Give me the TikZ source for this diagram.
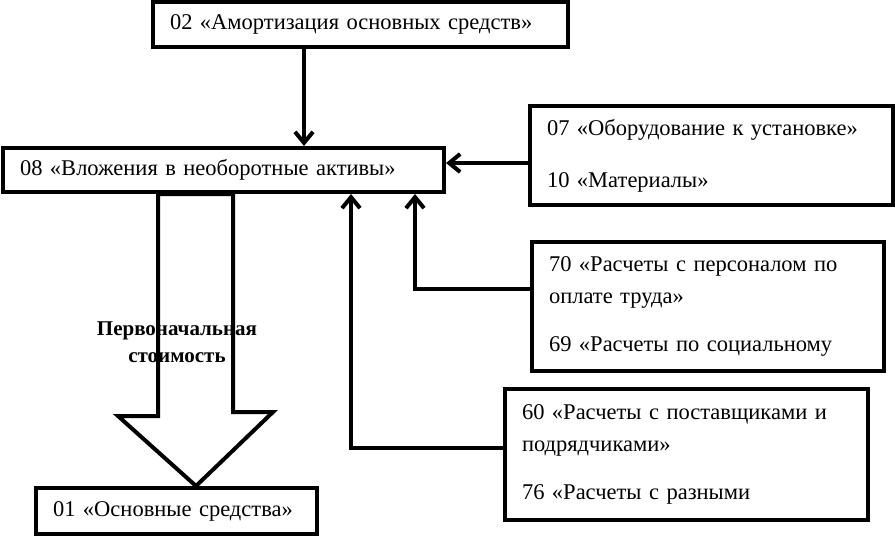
\documentclass[tikz,border=0pt]{standalone}
\usepackage{fontspec}
\setmainfont{Liberation Serif}
\usetikzlibrary{arrows.meta}

\begin{document}
\begin{tikzpicture}[x=1pt, y=-1pt,
  box/.style={draw, line width=4pt, inner xsep=17pt, inner ysep=0pt, align=left,
    font=\fontsize{22.5}{32}\selectfont},
  arr/.style={line width=4pt, -{Straight Barb[length=11pt,width=18pt]}},
  bigarr/.style={line width=4pt, line join=miter}]
\useasboundingbox (0,0) rectangle (895,536);
\node[box, text width=381pt, minimum height=45pt] (acc02) at (360.5,24.5) {02 «Амортизация основных средств»};
\node[box, text width=407pt, minimum height=44pt] (acc08) at (223.5,170) {08 «Вложения в необоротные активы»};
\node[box, text width=329pt, minimum height=99pt] (acc07) at (711.5,155.5) {07 «Оборудование к установке»\\[20pt]10 «Материалы»};
\node[box, text width=318pt, minimum height=129pt] (acc70) at (708,306.5) {70 «Расчеты с персоналом по\\оплате труда»\\[16pt]69 «Расчеты по социальному};
\node[box, text width=329pt, minimum height=131pt] (acc60) at (686.5,454.5) {60 «Расчеты с поставщиками и\\подрядчиками»\\[16pt]76 «Расчеты с разными};
\node[box, text width=247pt, minimum height=46pt] (acc01) at (176.5,511) {01 «Основные средства»};
\node[font=\fontsize{21}{27}\selectfont\bfseries, align=center] (cost) at (177,342) {Первоначальная\\стоимость};
% arrows into 08
\draw[arr] ([xshift=-56.5pt]acc02.south) -- ([xshift=-56.5pt]acc02.south |- acc08.north);
\draw[arr] ([yshift=-7.5pt]acc07.west) -- ([yshift=-7.5pt]acc07.west -| acc08.east);
\draw[arr] ([yshift=17.5pt]acc70.west) -| ([xshift=191.5pt]acc08.south);
\draw[arr] ([yshift=6.5pt]acc60.west) -| ([xshift=127.5pt]acc08.south);
% block arrow 08 -> 01
\draw[bigarr] ([xshift=-65.5pt]acc08.south) -- ++(0,222) -- ++(-40,0) -- ([xshift=19.5pt]acc01.north)
  -- ++(77,-74) -- ++(-40,0) -- ([xshift=9.5pt]acc08.south) -- cycle;
\end{tikzpicture}
\end{document}
